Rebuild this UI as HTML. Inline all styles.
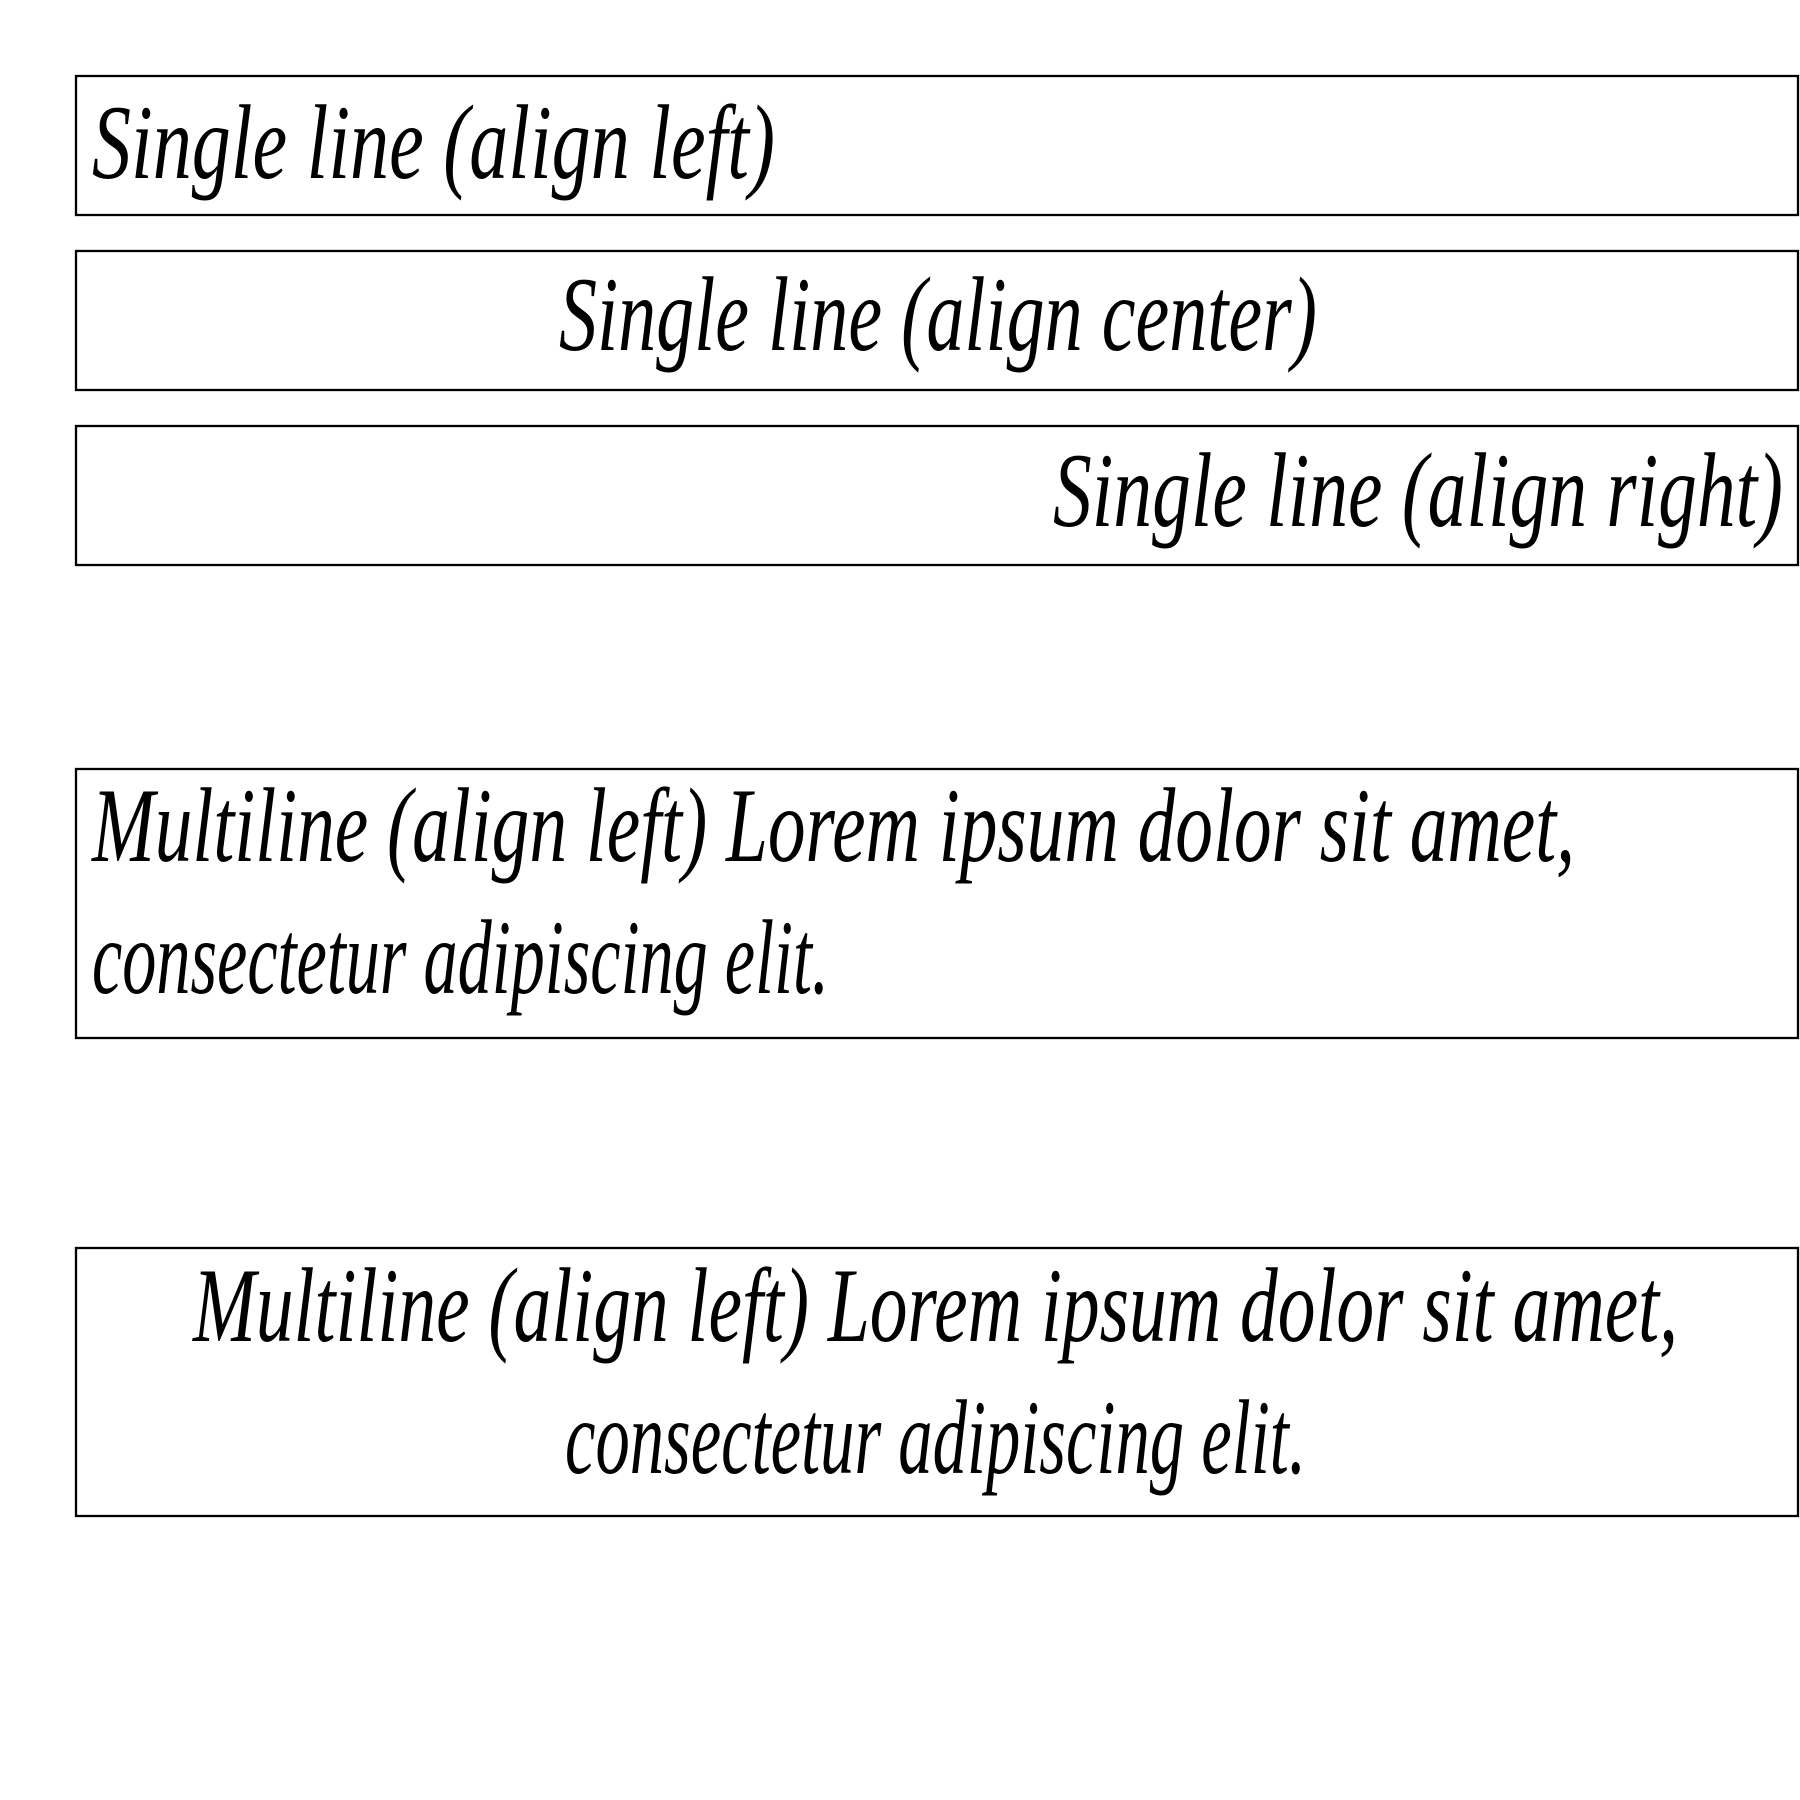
<!DOCTYPE html>
<html><head><meta charset="utf-8"><style>
html,body{margin:0;padding:0;background:#fff;width:1800px;height:1800px;overflow:hidden}
svg text{font-family:"Liberation Serif",serif;font-style:italic;font-size:106px;fill:#000}
</style></head><body>
<svg width="1800" height="1800" viewBox="0 0 1800 1800">
<rect x="76" y="76" width="1722" height="139" fill="none" stroke="#000" stroke-width="2.3"/>
<rect x="76" y="251" width="1722" height="139" fill="none" stroke="#000" stroke-width="2.3"/>
<rect x="76" y="426" width="1722" height="139" fill="none" stroke="#000" stroke-width="2.3"/>
<rect x="76" y="769" width="1722" height="269" fill="none" stroke="#000" stroke-width="2.3"/>
<rect x="76" y="1248" width="1722" height="268" fill="none" stroke="#000" stroke-width="2.3"/>
<text x="92" y="178" textLength="683" lengthAdjust="spacingAndGlyphs">Single line (align left)</text>
<text x="559" y="350" textLength="758" lengthAdjust="spacingAndGlyphs">Single line (align center)</text>
<text x="1053" y="526" textLength="730" lengthAdjust="spacingAndGlyphs">Single line (align right)</text>
<text x="92" y="861" textLength="1483" lengthAdjust="spacingAndGlyphs">Multiline (align left) Lorem ipsum dolor sit amet,</text>
<text x="92" y="993" textLength="737" lengthAdjust="spacingAndGlyphs">consectetur adipiscing elit.</text>
<text x="193" y="1341" textLength="1485" lengthAdjust="spacingAndGlyphs">Multiline (align left) Lorem ipsum dolor sit amet,</text>
<text x="565" y="1473" textLength="741" lengthAdjust="spacingAndGlyphs">consectetur adipiscing elit.</text>
</svg>
</body></html>
